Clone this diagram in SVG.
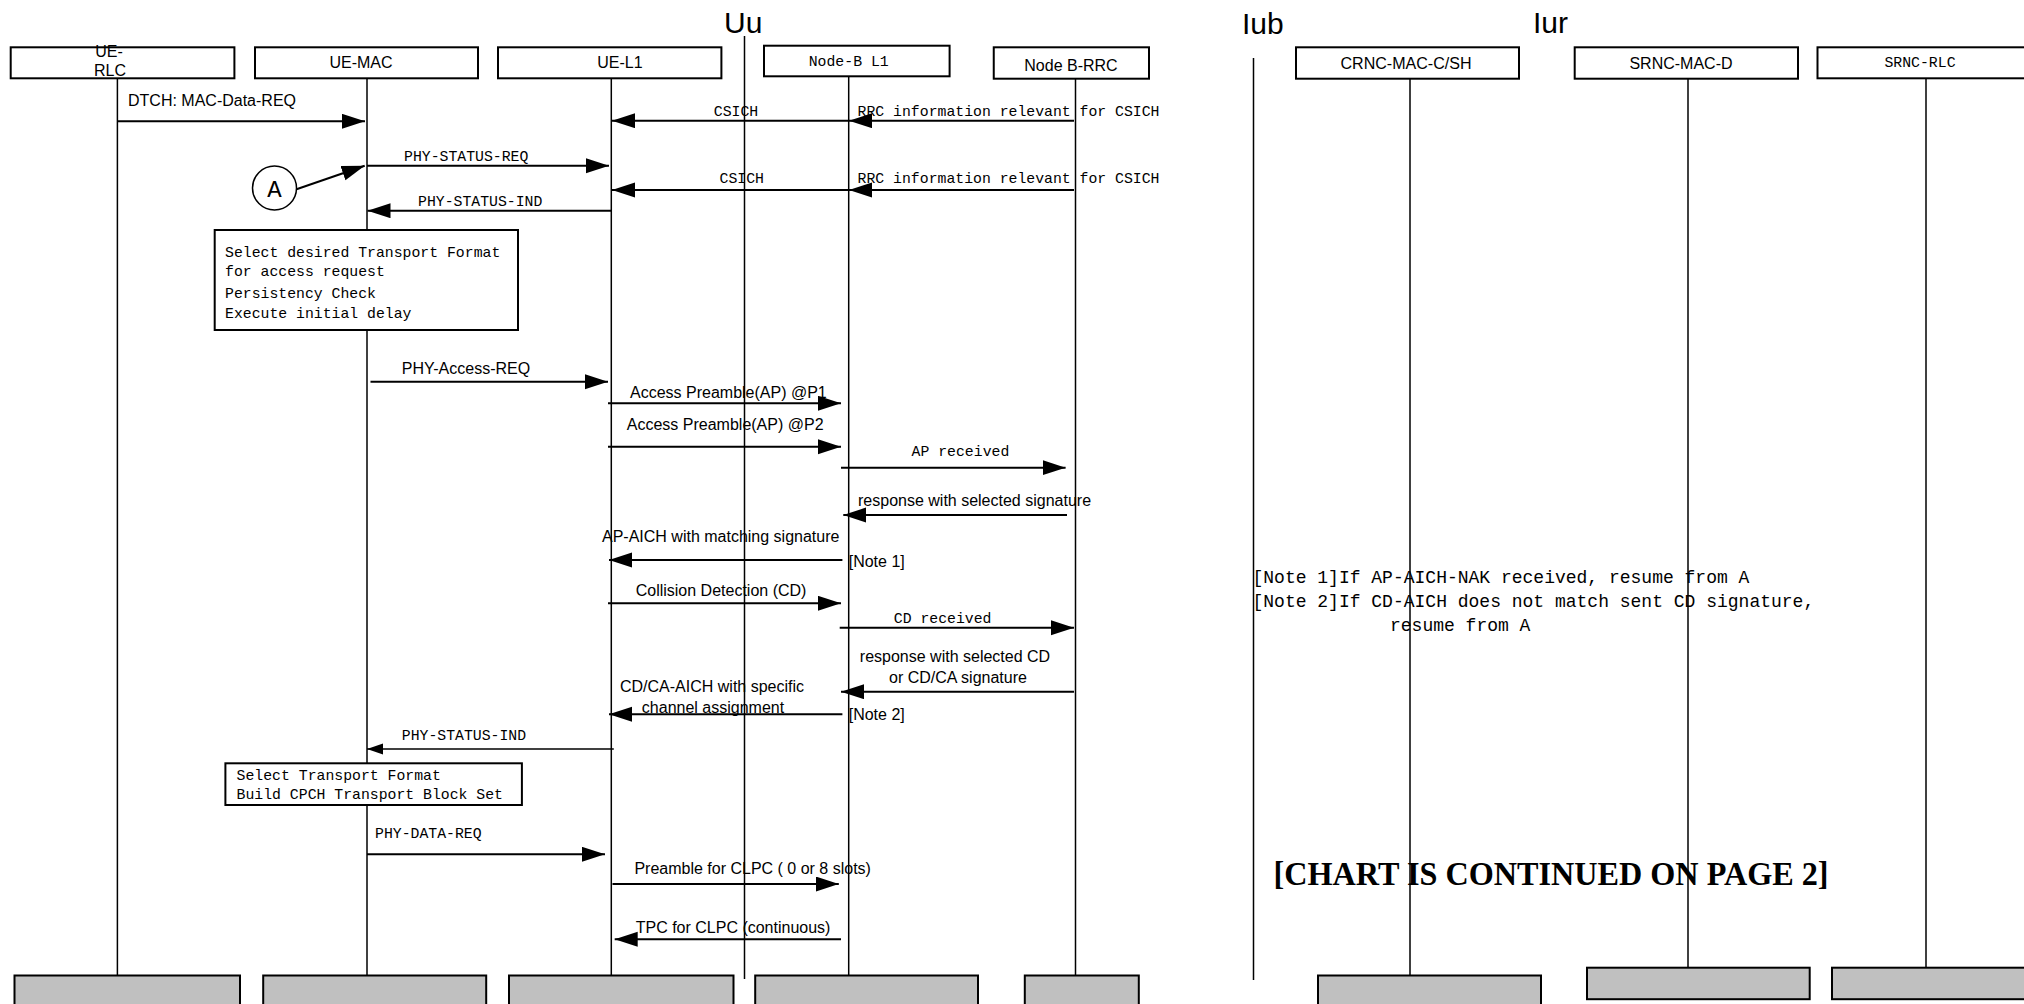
<svg xmlns="http://www.w3.org/2000/svg" width="2024" height="1004" viewBox="0 0 2024 1004">
<style>
.ll{stroke:#000;stroke-width:1.5;fill:none}
.msg{stroke:#000;stroke-width:2;fill:none;marker-end:url(#ah)}
.msgs{stroke:#000;stroke-width:1.5;fill:none;marker-end:url(#ahs)}
.hdr{fill:#fff;stroke:#000;stroke-width:2}
.ftr{fill:#c0c0c0;stroke:#000;stroke-width:2}
.box{fill:#fff;stroke:#000;stroke-width:2}
.sans{font-family:"Liberation Sans",Arial,sans-serif;font-size:16px;fill:#000}
.mono{font-family:"Liberation Mono","Courier New",monospace;font-size:14.8px;fill:#000}
.big{font-family:"Liberation Sans",Arial,sans-serif;font-size:30px;fill:#000}
.note{font-family:"Liberation Mono","Courier New",monospace;font-size:18px;fill:#000}
.mid{text-anchor:middle}
</style>
<defs>
<marker id="ah" markerUnits="userSpaceOnUse" markerWidth="24" markerHeight="16" refX="23" refY="7.5" orient="auto"><path d="M0,0 L23,7.5 L0,15 z" fill="#000"/></marker>
<marker id="ahs" markerUnits="userSpaceOnUse" markerWidth="17" markerHeight="12" refX="16" refY="5.5" orient="auto"><path d="M0,0 L16,5.5 L0,11 z" fill="#000"/></marker>
</defs>
<rect width="2024" height="1004" fill="#fff"/>

<g id="interfaces">
<text class="big" x="724" y="33">Uu</text>
<line class="ll" x1="744.5" y1="36" x2="744.5" y2="979"/>
<text class="big" x="1242" y="34">Iub</text>
<line class="ll" x1="1253.5" y1="58" x2="1253.5" y2="980"/>
<text class="big" x="1533" y="33">Iur</text>
</g>

<g id="ue-rlc">
<line class="ll" x1="117.4" y1="78" x2="117.4" y2="976"/>
<rect class="hdr" x="10.7" y="47.3" width="223.7" height="31"/>
<text class="sans mid" x="109" y="57">UE-</text>
<text class="sans mid" x="110" y="76">RLC</text>
<rect class="ftr" x="14.5" y="975.5" width="225.5" height="40"/>
</g>
<g id="ue-mac">
<line class="ll" x1="367" y1="78" x2="367" y2="976"/>
<rect class="hdr" x="255" y="47.3" width="223" height="31"/>
<text class="sans mid" x="361" y="68">UE-MAC</text>
<rect class="ftr" x="263.2" y="975.5" width="223" height="40"/>
</g>
<g id="ue-l1">
<line class="ll" x1="611.3" y1="78" x2="611.3" y2="976"/>
<rect class="hdr" x="498" y="47.3" width="223.4" height="31"/>
<text class="sans mid" x="620" y="68">UE-L1</text>
<rect class="ftr" x="509" y="975.5" width="224.5" height="40"/>
</g>
<g id="node-b-l1">
<line class="ll" x1="848.7" y1="76" x2="848.7" y2="976"/>
<rect class="hdr" x="764" y="45.7" width="185.6" height="30.6"/>
<text class="mono mid" x="848.7" y="65.7">Node-B L1</text>
<rect class="ftr" x="755.2" y="975.5" width="222.8" height="40"/>
</g>
<g id="node-b-rrc">
<line class="ll" x1="1075.5" y1="78.7" x2="1075.5" y2="976"/>
<rect class="hdr" x="993.75" y="47.3" width="155.25" height="31.4"/>
<text class="sans mid" x="1071" y="71">Node B-RRC</text>
<rect class="ftr" x="1024.8" y="975.5" width="114" height="40"/>
</g>
<g id="crnc-mac-c-sh">
<line class="ll" x1="1410" y1="78.7" x2="1410" y2="976"/>
<rect class="hdr" x="1296" y="47.3" width="223" height="31.4"/>
<text class="sans mid" x="1406" y="69.3" textLength="131" lengthAdjust="spacingAndGlyphs">CRNC-MAC-C/SH</text>
<rect class="ftr" x="1318" y="975.5" width="223" height="40"/>
</g>
<g id="srnc-mac-d">
<line class="ll" x1="1688" y1="78.7" x2="1688" y2="968"/>
<rect class="hdr" x="1574.7" y="47.3" width="223.3" height="31.4"/>
<text class="sans mid" x="1681" y="69.3">SRNC-MAC-D</text>
<rect class="ftr" x="1587" y="967.7" width="222.7" height="31.5"/>
</g>
<g id="srnc-rlc">
<line class="ll" x1="1926" y1="78.3" x2="1926" y2="968"/>
<rect class="hdr" x="1817.5" y="47.3" width="215" height="31"/>
<text class="mono mid" x="1920" y="67.3">SRNC-RLC</text>
<rect class="ftr" x="1832" y="967.7" width="200" height="31.5"/>
</g>

<g id="note-box-1">
<rect class="box" x="214.7" y="230" width="303.3" height="100"/>
<text class="mono" x="225" y="256.7">Select desired Transport Format</text>
<text class="mono" x="225" y="276">for access request</text>
<text class="mono" x="225" y="297.7">Persistency Check</text>
<text class="mono" x="225" y="317.7">Execute initial delay</text>
</g>
<g id="note-box-2">
<rect class="box" x="225.4" y="763.3" width="296.5" height="41.7"/>
<text class="mono" x="236.6" y="780">Select Transport Format</text>
<text class="mono" x="236.6" y="799.3">Build CPCH Transport Block Set</text>
</g>
<g id="marker-a">
<circle cx="274.5" cy="188" r="22" fill="#fff" stroke="#000" stroke-width="1.5"/>
<text class="mono mid" x="274.5" y="197" style="font-size:24px">A</text>
</g>

<g id="connectors">
<line class="msg" x1="117.4" y1="121.3" x2="365" y2="121.3"/>
<line class="msg" x1="1074" y1="120.7" x2="849" y2="120.7"/>
<line class="msg" x1="849" y1="120.7" x2="612" y2="120.7"/>
<line class="msg" x1="367" y1="165.7" x2="609" y2="165.7"/>
<line class="msg" x1="296.5" y1="189.3" x2="364.7" y2="165.7"/>
<line class="msg" x1="1074" y1="190" x2="849" y2="190"/>
<line class="msg" x1="849" y1="190" x2="612" y2="190"/>
<line class="msg" x1="611" y1="210.7" x2="367.5" y2="210.7"/>
<line class="msg" x1="370.5" y1="381.7" x2="608" y2="381.7"/>
<line class="msg" x1="608" y1="403.3" x2="841" y2="403.3"/>
<line class="msg" x1="608" y1="446.7" x2="841" y2="446.7"/>
<line class="msg" x1="841" y1="467.7" x2="1065.6" y2="467.7"/>
<line class="msg" x1="1067" y1="515" x2="843.3" y2="515"/>
<line class="msg" x1="842.4" y1="560" x2="609" y2="560"/>
<line class="msg" x1="608" y1="603.3" x2="841" y2="603.3"/>
<line class="msg" x1="839.7" y1="627.7" x2="1074" y2="627.7"/>
<line class="msg" x1="1074" y1="691.7" x2="841" y2="691.7"/>
<line class="msg" x1="842.4" y1="714.3" x2="609" y2="714.3"/>
<line class="msgs" x1="613.8" y1="749" x2="367" y2="749"/>
<line class="msg" x1="367" y1="854.3" x2="605" y2="854.3"/>
<line class="msg" x1="612.5" y1="884" x2="838.8" y2="884"/>
<line class="msg" x1="841" y1="939.3" x2="614.7" y2="939.3"/>
</g>

<g id="labels">
<text class="sans" x="128" y="106">DTCH: MAC-Data-REQ</text>
<text class="mono" x="713.8" y="115.7">CSICH</text>
<text class="mono" x="857.6" y="115.7">RRC information relevant for CSICH</text>
<text class="mono" x="404" y="161">PHY-STATUS-REQ</text>
<text class="mono" x="719.6" y="183.3">CSICH</text>
<text class="mono" x="857.6" y="183.3">RRC information relevant for CSICH</text>
<text class="mono" x="418" y="206">PHY-STATUS-IND</text>
<text class="sans" x="401.8" y="374.3">PHY-Access-REQ</text>
<text class="sans" x="630" y="398.3">Access Preamble(AP) @P1</text>
<text class="sans" x="626.8" y="430">Access Preamble(AP) @P2</text>
<text class="mono" x="911.6" y="456">AP received</text>
<text class="sans" x="858" y="506">response with selected signature</text>
<text class="sans" x="602" y="541.7">AP-AICH with matching signature</text>
<text class="sans" x="848.7" y="566.7">[Note 1]</text>
<text class="sans" x="635.7" y="595.7">Collision Detection (CD)</text>
<text class="mono" x="893.75" y="623.3">CD received</text>
<text class="sans mid" x="955" y="661.7">response with selected CD</text>
<text class="sans mid" x="958" y="683.3">or CD/CA signature</text>
<text class="sans mid" x="712" y="692.3">CD/CA-AICH with specific</text>
<text class="sans mid" x="713" y="713.3">channel assignment</text>
<text class="sans" x="848.7" y="720">[Note 2]</text>
<text class="mono" x="401.8" y="740">PHY-STATUS-IND</text>
<text class="mono" x="375" y="838.3">PHY-DATA-REQ</text>
<text class="sans" x="634.4" y="874.3">Preamble for CLPC ( 0 or 8 slots)</text>
<text class="sans" x="635.7" y="933.3">TPC for CLPC (continuous)</text>
</g>

<g id="notes">
<text class="note" x="1252.5" y="583.3">[Note 1]If AP-AICH-NAK received, resume from A</text>
<text class="note" x="1252.5" y="606.7">[Note 2]If CD-AICH does not match sent CD signature,</text>
<text class="note" x="1390" y="630.7">resume from A</text>
<text x="1273.6" y="885" textLength="555" lengthAdjust="spacingAndGlyphs" style="font-family:'Liberation Serif','Times New Roman',serif;font-weight:bold;font-size:34px">[CHART IS CONTINUED ON PAGE 2]</text>
</g>
</svg>
